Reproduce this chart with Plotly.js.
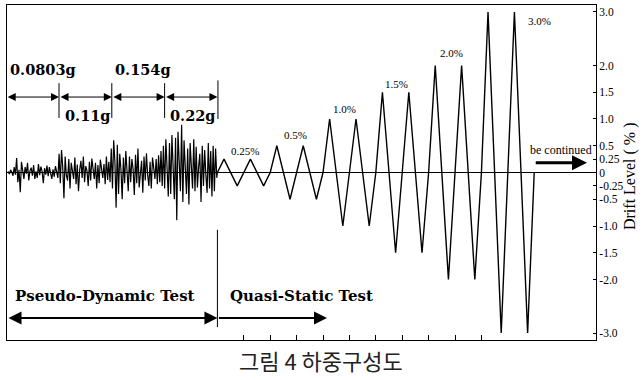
<!DOCTYPE html>
<html>
<head>
<meta charset="utf-8">
<script src="https://cdn.plot.ly/plotly-3.0.1.min.js"></script>
<style>html,body{margin:0;padding:0;background:#fff;}#chart{width:643px;height:380px;}</style>
</head>
<body>
<div id="chart"></div>
<script>
// Pseudo-dynamic response (drift %), four excitation levels
var pdLevels = ['0.0803g', '0.11g', '0.154g', '0.22g'];
var pdSeg1 = [0.02,-0.03,0.05,0.01,-0.06,0.1,-0.04,0.27,-0.18,0.05,-0.37,0.2,0.04,-0.12,0.1,-0.02,0.18,-0.15,0.03,0.09,-0.06,0.14,-0.12,0.02,-0.1,0.16,-0.05,0.11,0.02,-0.2,0.08,-0.04,0.13,-0.07,0.1,0.01,-0.12,0.06,-0.08,0.12,-0.02,-0.1];
var pdSeg2 = [0.35,-0.2,0.42,0.1,-0.48,0.3,-0.05,-0.15,0.25,-0.3,0.18,0.02,-0.12,0.28,-0.22,0.15,-0.35,0.05,0.22,-0.1,0.3,-0.18,0.12,0.03,-0.25,0.2,-0.15,0.26,0.05,-0.12,0.18,-0.3,0.14,-0.2,0.24,0.04,-0.1,0.16,-0.22,0.3,-0.14,0.2,-0.18];
var pdSeg3 = [0.45,-0.3,0.6,0.2,-0.66,0.52,-0.4,0.35,0.05,-0.5,0.28,-0.2,0.4,-0.1,-0.35,0.3,-0.18,0.25,0.06,-0.42,0.33,-0.2,0.45,-0.28,0.05,0.22,-0.38,0.3,-0.15,0.36,-0.05,-0.25,0.2,-0.3,0.28,0.04,-0.12,0.25,-0.22,0.32,-0.18,0.4,-0.25];
var pdSeg4 = [0.5,-0.3,0.62,0.1,-0.45,0.55,-0.4,0.7,0.2,-0.5,0.65,-0.89,0.76,0.3,-0.35,0.89,-0.55,0.6,-0.1,-0.4,0.45,-0.6,0.55,0.05,-0.3,0.62,-0.35,0.48,-0.28,0.1,0.35,-0.55,0.5,-0.25,0.42,-0.05,-0.38,0.55,-0.3,0.4,-0.45,0.5,-0.35,0.45,-0.1];

// Quasi-static cycles: drift level of each cycle (%)
var qsCycles = [0.25,0.25,0.5,0.5,1.0,1.0,1.5,1.5,2.0,2.0,3.0,3.0];
var qsLabels = ['0.25%','0.5%','1.0%','1.5%','2.0%','3.0%'];

// Right axis ticks
var yTickVals = [3.0,2.0,1.5,1.0,0.5,0.25,0,-0.25,-0.5,-1.0,-1.5,-2.0,-3.0];
var yTickText = ['3.0','2.0','1.5','1.0','0.5','0.25','0','-0.25','-0.5','-1.0','-1.5','-2.0','-3.0'];

// build pseudo-dynamic trace (each level spans 2 time units before t=0)
var pdAll = pdSeg1.concat(pdSeg2, pdSeg3, pdSeg4);
var pdX = [], pdY = [];
var N = pdAll.length, span = 7.95;
for (var i = 0; i < N; i++) { pdX.push(-span + (i + 0.5) * span / N); pdY.push(pdAll[i]); }
pdX.push(0); pdY.push(0);

// build quasi-static triangle trace
var qsX = [0], qsY = [0];
qsCycles.forEach(function(a, k){
  qsX.push(k + 0.25, k + 0.75, k + 1); qsY.push(a, -a, 0);
});

var serif = 'Liberation Serif, Times New Roman, serif';
var bold = 'DejaVu Serif, serif';

var traces = [
  {x: pdX, y: pdY, mode: 'lines', line: {color: '#000', width: 1.2}, hoverinfo: 'skip'},
  {x: qsX, y: qsY, mode: 'lines', line: {color: '#000', width: 1.4}, hoverinfo: 'skip'}
];

var ann = [];
function txt(t, x, y, opts) {
  var a = {text: t, x: x, y: y, xref: 'x', yref: 'y', showarrow: false,
    font: {family: serif, size: 11, color: '#000'}, xanchor: 'center', yanchor: 'middle'};
  for (var k in opts) a[k] = opts[k];
  ann.push(a);
}
// cycle level labels
var qsLabelPos = [[1.04,0.40],[2.94,0.70],[4.83,1.19],[6.8,1.65],[8.88,2.23],[12.2,2.83]];
qsLabels.forEach(function(l, i){ txt(l, qsLabelPos[i][0], qsLabelPos[i][1]); });

// excitation labels
var gFont = {family: bold, size: 14.5, color: '#000'};
txt('<b>' + pdLevels[0] + '</b>', -7.93, 1.92, {xanchor: 'left', font: gFont});
txt('<b>' + pdLevels[1] + '</b>', -5.85, 1.07, {xanchor: 'left', font: gFont});
txt('<b>' + pdLevels[2] + '</b>', -3.96, 1.92, {xanchor: 'left', font: gFont});
txt('<b>' + pdLevels[3] + '</b>', -0.02, 1.07, {xanchor: 'right', font: gFont});

// dimension arrows
[[-8,-6],[-6,-4],[-4,-2],[-2,0]].forEach(function(s){
  ann.push({x: s[1], y: 1.41, ax: s[0], ay: 1.41, xref: 'x', yref: 'y', axref: 'x', ayref: 'y',
    text: '', showarrow: true, arrowhead: 2, arrowside: 'end+start', arrowsize: 1.6, arrowwidth: 1, arrowcolor: '#000', standoff: 0, startstandoff: 0});
});

// test phase labels and arrows
var tFont = {family: bold, size: 15, color: '#000'};
txt('<b>Pseudo-Dynamic Test</b>', -7.75, -2.31, {xanchor: 'left', font: tFont});
txt('<b>Quasi-Static Test</b>', 0.4, -2.31, {xanchor: 'left', font: tFont});
ann.push({x: 0, y: -2.72, ax: -7.97, ay: -2.72, xref: 'x', yref: 'y', axref: 'x', ayref: 'y',
  text: '', showarrow: true, arrowhead: 2, arrowside: 'end+start', arrowsize: 1.3, arrowwidth: 2, arrowcolor: '#000', standoff: 0, startstandoff: 0});
ann.push({x: 4.15, y: -2.72, ax: 0, ay: -2.72, xref: 'x', yref: 'y', axref: 'x', ayref: 'y',
  text: '', showarrow: true, arrowhead: 2, arrowsize: 1.3, arrowwidth: 2, arrowcolor: '#000', standoff: 0});

// be continued
txt('be continued', 13.0, 0.42, {font: {family: serif, size: 12, color: '#000'}});
ann.push({x: 14.0, y: 0.18, ax: 12.0, ay: 0.18, xref: 'x', yref: 'y', axref: 'x', ayref: 'y',
  text: '', showarrow: true, arrowhead: 2, arrowsize: 1, arrowwidth: 3, arrowcolor: '#000', standoff: 0});

// right axis title
ann.push({text: 'Drift Level ( % )', xref: 'paper', yref: 'paper', x: 1.058, y: 0.49, showarrow: false,
  textangle: -90, font: {family: serif, size: 16, color: '#000'}, xanchor: 'center', yanchor: 'middle'});

// caption
ann.push({text: '그림 4 하중구성도', xref: 'paper', yref: 'paper', x: 0.533, y: -0.06, showarrow: false,
  font: {family: 'Noto Sans CJK KR, sans-serif', size: 22, color: '#222'}, xanchor: 'center', yanchor: 'middle'});

var shapes = [];
[-6,-4,-2].forEach(function(t){
  shapes.push({type: 'line', xref: 'x', yref: 'y', x0: t, x1: t, y0: 1.02, y1: 1.67, line: {color: '#000', width: 1}});
});
shapes.push({type: 'line', xref: 'x', yref: 'y', x0: 0.02, x1: 0.02, y0: 1.0, y1: 1.72, line: {color: '#000', width: 1}});
shapes.push({type: 'line', xref: 'x', yref: 'y', x0: 0, x1: 0, y0: -1.07, y1: -2.89, line: {color: '#000', width: 1}});

var layout = {
  width: 643, height: 380,
  margin: {l: 7, r: 47, t: 5, b: 40},
  paper_bgcolor: '#fff', plot_bgcolor: '#fff',
  showlegend: false,
  xaxis: {range: [-7.97, 14.34], showgrid: false, zeroline: false, showline: true, mirror: true,
    linecolor: '#000', linewidth: 1, ticks: 'inside', tickvals: [1,2,3,4,5,6,7,8,9,10], ticklen: 5,
    tickcolor: '#000', showticklabels: false, fixedrange: true},
  yaxis: {range: [-3.13, 3.13], side: 'right', showgrid: false, zeroline: true, zerolinecolor: '#000', zerolinewidth: 1,
    showline: true, mirror: true, linecolor: '#000', linewidth: 1, ticks: 'inside', ticklen: 3, tickcolor: '#000',
    tickvals: yTickVals, ticktext: yTickText, tickfont: {family: serif, size: 11.5, color: '#000'}, fixedrange: true},
  annotations: ann,
  shapes: shapes
};

Plotly.newPlot('chart', traces, layout, {displayModeBar: false, staticPlot: true});
</script>
</body>
</html>
